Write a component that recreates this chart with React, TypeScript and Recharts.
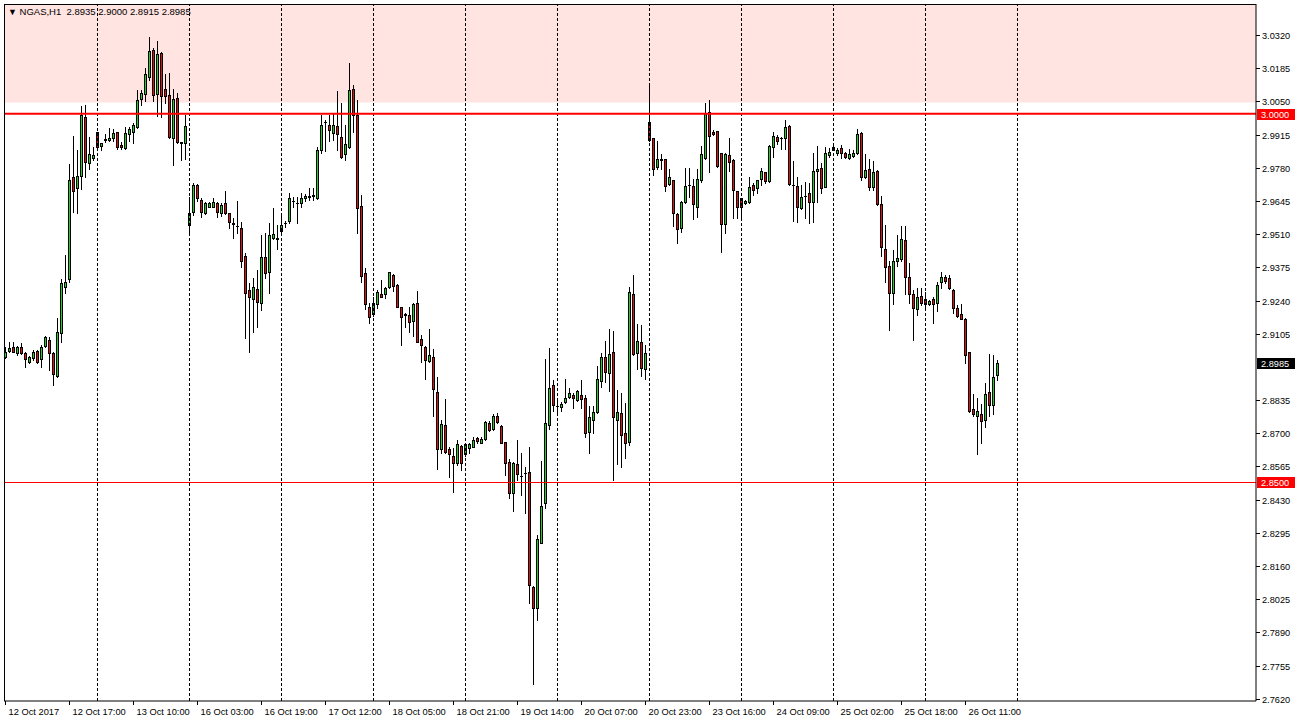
import { ComposedChart, Bar, XAxis, YAxis, ReferenceLine, ReferenceArea } from "recharts";

// NGAS H1 candles (bar 0 = 12 Oct 2017 00:00)
const opens = [
  2.9012, 2.9036, 2.9050, 2.9026, 2.9050, 2.9026, 2.8989, 2.9005, 2.9036, 2.9001,
  2.9055, 2.9080, 2.9026, 2.8933, 2.9109, 2.9296, 2.9326, 2.9741, 2.9696, 2.9746,
  2.9985, 2.9798, 2.9821, 2.9924, 2.9870, 2.9896, 2.9893, 2.9900, 2.9924, 2.9872,
  2.9859, 2.9916, 2.9927, 2.9947, 3.0058, 3.0079, 3.0150, 3.0259, 3.0079, 3.0245,
  3.0100, 3.0076, 2.9900, 3.0063, 2.9882, 2.9882, 2.9547, 2.9601, 2.9710, 2.9649,
  2.9595, 2.9622, 2.9622, 2.9635, 2.9595, 2.9635, 2.9595, 2.9554, 2.9543, 2.9534,
  2.9421, 2.9283, 2.9245, 2.9286, 2.9229, 2.9418, 2.9357, 2.9493, 2.9493, 2.9524,
  2.9557, 2.9565, 2.9645, 2.9638, 2.9635, 2.9656, 2.9665, 2.9666, 2.9656, 2.9852,
  2.9966, 2.9954, 2.9922, 2.9950, 2.9904, 2.9836, 2.9863, 3.0099, 2.9994, 2.9625,
  2.9351, 2.9213, 2.9186, 2.9225, 2.9267, 2.9265, 2.9294, 2.9344, 2.9303, 2.9213,
  2.9184, 2.9181, 2.9158, 2.9229, 2.9083, 2.9052, 2.8994, 2.9009, 2.8867, 2.8635,
  2.8734, 2.8635, 2.8608, 2.8581, 2.8649, 2.8615, 2.8642, 2.8646, 2.8680, 2.8662,
  2.8676, 2.8741, 2.8718, 2.8772, 2.8730, 2.8664, 2.8585, 2.8456, 2.8575, 2.8527,
  2.8538, 2.8542, 2.8074, 2.7989, 2.8255, 2.8416, 2.8734, 2.8896, 2.8811, 2.8806,
  2.8826, 2.8849, 2.8857, 2.8836, 2.8855, 2.8843, 2.8707, 2.8752, 2.8788, 2.8914,
  2.9009, 2.8947, 2.9030, 2.8752, 2.8782, 2.8700, 2.8666, 2.9266, 2.9028, 2.9071,
  2.8963, 2.9967, 2.9900, 2.9782, 2.9814, 2.9814, 2.9713, 2.9730, 2.9592, 2.9534,
  2.9642, 2.9710, 2.9706, 2.9622, 2.9730, 2.9819, 3.0008, 2.9924, 2.9929, 2.9839,
  2.9550, 2.9832, 2.9812, 2.9685, 2.9656, 2.9635, 2.9639, 2.9710, 2.9696, 2.9733,
  2.9761, 2.9726, 2.9863, 2.9904, 2.9900, 2.9900, 2.9951, 2.9710, 2.9706, 2.9615,
  2.9666, 2.9676, 2.9639, 2.9767, 2.9778, 2.9703, 2.9832, 2.9863, 2.9841, 2.9859,
  2.9839, 2.9819, 2.9829, 2.9839, 2.9920, 2.9744, 2.9774, 2.9703, 2.9767, 2.9631,
  2.9449, 2.9381, 2.9270, 2.9402, 2.9408, 2.9486, 2.9335, 2.9267, 2.9206, 2.9259,
  2.9245, 2.9226, 2.9246, 2.9231, 2.9314, 2.9337, 2.9331, 2.9283, 2.9209, 2.9186,
  2.9165, 2.9030, 2.8799, 2.8771, 2.8779, 2.8752, 2.8867, 2.8813, 2.8935,
];

const highs = [
  2.9052, 2.9073, 2.9073, 2.9055, 2.9066, 2.9032, 2.9016, 2.9039, 2.9039, 2.9059,
  2.9096, 2.9093, 2.9032, 2.9168, 2.9326, 2.9425, 2.9795, 2.9909, 2.9852, 3.0031,
  3.0035, 2.9906, 2.9863, 2.9927, 2.9882, 2.9917, 2.9940, 2.9936, 2.9927, 2.9886,
  2.9944, 2.9944, 2.9961, 3.0096, 3.0096, 3.0184, 3.0310, 3.0266, 3.0297, 3.0252,
  3.0161, 3.0164, 3.0099, 3.0083, 2.9886, 2.9994, 2.9662, 2.9717, 2.9714, 2.9656,
  2.9642, 2.9642, 2.9658, 2.9642, 2.9635, 2.9685, 2.9597, 2.9574, 2.9645, 2.9561,
  2.9432, 2.9313, 2.9333, 2.9364, 2.9507, 2.9516, 2.9554, 2.9615, 2.9547, 2.9595,
  2.9565, 2.9676, 2.9662, 2.9662, 2.9676, 2.9673, 2.9696, 2.9696, 2.9863, 2.9994,
  2.9974, 2.9994, 3.0001, 3.0092, 3.0042, 2.9954, 3.0207, 3.0117, 3.0056, 2.9669,
  2.9371, 2.9229, 2.9256, 2.9283, 2.9324, 2.9296, 2.9357, 2.9347, 2.9306, 2.9215,
  2.9191, 2.9215, 2.9229, 2.9279, 2.9100, 2.9055, 2.9124, 2.9043, 2.8927, 2.8752,
  2.8840, 2.8646, 2.8639, 2.8673, 2.8653, 2.8662, 2.8662, 2.8684, 2.8686, 2.8684,
  2.8748, 2.8748, 2.8778, 2.8782, 2.8734, 2.8666, 2.8595, 2.8585, 2.8673, 2.8619,
  2.8562, 2.8646, 2.8079, 2.8287, 2.8589, 2.9002, 2.9046, 2.8917, 2.8843, 2.8829,
  2.8921, 2.8883, 2.8863, 2.8876, 2.8917, 2.8856, 2.8809, 2.8812, 2.8974, 2.9028,
  2.9075, 2.9123, 2.9117, 2.8876, 2.8863, 2.8822, 2.9294, 2.9344, 2.9145, 2.9141,
  2.9059, 3.0126, 2.9902, 2.9890, 2.9836, 2.9816, 2.9774, 2.9732, 2.9594, 2.9646,
  2.9778, 2.9778, 2.9733, 2.9774, 2.9869, 3.0042, 3.0056, 2.9933, 2.9931, 2.9841,
  2.9841, 2.9900, 2.9814, 2.9687, 2.9658, 2.9647, 2.9744, 2.9717, 2.9732, 2.9778,
  2.9764, 2.9872, 2.9924, 2.9913, 2.9906, 2.9974, 2.9954, 2.9809, 2.9741, 2.9710,
  2.9721, 2.9717, 2.9839, 2.9869, 2.9798, 2.9863, 2.9859, 2.9869, 2.9859, 2.9872,
  2.9845, 2.9855, 2.9852, 2.9937, 2.9924, 2.9836, 2.9814, 2.9808, 2.9769, 2.9665,
  2.9547, 2.9401, 2.9446, 2.9507, 2.9543, 2.9543, 2.9392, 2.9283, 2.9290, 2.9290,
  2.9276, 2.9242, 2.9253, 2.9317, 2.9355, 2.9344, 2.9344, 2.9285, 2.9222, 2.9225,
  2.9168, 2.9032, 2.8860, 2.8843, 2.8820, 2.8904, 2.9023, 2.9019, 2.9000,
];

const lows = [
  2.9005, 2.9032, 2.9029, 2.9019, 2.9023, 2.8971, 2.8985, 2.8998, 2.8987, 2.8971,
  2.9052, 2.8958, 2.8897, 2.8928, 2.9073, 2.9269, 2.9317, 2.9601, 2.9595, 2.9692,
  2.9741, 2.9774, 2.9812, 2.9855, 2.9852, 2.9883, 2.9889, 2.9890, 2.9855, 2.9855,
  2.9855, 2.9890, 2.9882, 2.9940, 3.0035, 3.0053, 3.0137, 3.0053, 2.9990, 2.9988,
  3.0044, 2.9900, 2.9791, 2.9880, 2.9812, 2.9815, 2.9511, 2.9588, 2.9646, 2.9581,
  2.9592, 2.9619, 2.9619, 2.9581, 2.9584, 2.9592, 2.9534, 2.9493, 2.9513, 2.9378,
  2.9087, 2.9032, 2.9113, 2.9134, 2.9202, 2.9330, 2.9272, 2.9489, 2.9448, 2.9516,
  2.9540, 2.9554, 2.9622, 2.9554, 2.9622, 2.9646, 2.9649, 2.9649, 2.9653, 2.9839,
  2.9849, 2.9890, 2.9893, 2.9852, 2.9819, 2.9812, 2.9859, 2.9927, 2.9513, 2.9317,
  2.9205, 2.9150, 2.9175, 2.9211, 2.9253, 2.9252, 2.9290, 2.9280, 2.9213, 2.9059,
  2.9134, 2.9113, 2.9096, 2.9072, 2.8991, 2.8921, 2.8991, 2.8772, 2.8554, 2.8621,
  2.8621, 2.8524, 2.8463, 2.8571, 2.8551, 2.8609, 2.8621, 2.8643, 2.8660, 2.8660,
  2.8673, 2.8711, 2.8714, 2.8741, 2.8660, 2.8531, 2.8436, 2.8382, 2.8510, 2.8449,
  2.8377, 2.8011, 2.7681, 2.7941, 2.8253, 2.8395, 2.8717, 2.8792, 2.8775, 2.8792,
  2.8822, 2.8843, 2.8802, 2.8833, 2.8802, 2.8686, 2.8621, 2.8703, 2.8784, 2.8887,
  2.8910, 2.8873, 2.8508, 2.8576, 2.8562, 2.8601, 2.8653, 2.9019, 2.8962, 2.8931,
  2.8920, 2.9889, 2.9751, 2.9774, 2.9774, 2.9687, 2.9710, 2.9544, 2.9473, 2.9520,
  2.9638, 2.9662, 2.9570, 2.9581, 2.9723, 2.9815, 2.9764, 2.9913, 2.9784, 2.9439,
  2.9516, 2.9768, 2.9574, 2.9574, 2.9581, 2.9631, 2.9638, 2.9669, 2.9679, 2.9710,
  2.9719, 2.9723, 2.9823, 2.9877, 2.9855, 2.9855, 2.9710, 2.9565, 2.9561, 2.9611,
  2.9574, 2.9554, 2.9561, 2.9642, 2.9679, 2.9701, 2.9822, 2.9851, 2.9832, 2.9821,
  2.9819, 2.9816, 2.9825, 2.9836, 2.9730, 2.9737, 2.9689, 2.9689, 2.9629, 2.9423,
  2.9317, 2.9120, 2.9226, 2.9381, 2.9402, 2.9267, 2.9231, 2.9080, 2.9181, 2.9222,
  2.9215, 2.9222, 2.9148, 2.9198, 2.9290, 2.9310, 2.9286, 2.9188, 2.9172, 2.9164,
  2.8985, 2.8788, 2.8771, 2.8615, 2.8662, 2.8725, 2.8771, 2.8779, 2.8915,
];

const closes = [
  2.9032, 2.9046, 2.9032, 2.9050, 2.9028, 2.9001, 2.9009, 2.9032, 2.8991, 2.9052,
  2.9091, 2.9028, 2.8941, 2.9113, 2.9310, 2.9317, 2.9730, 2.9687, 2.9746, 2.9994,
  2.9805, 2.9835, 2.9832, 2.9863, 2.9879, 2.9894, 2.9900, 2.9920, 2.9863, 2.9863,
  2.9920, 2.9936, 2.9954, 3.0056, 3.0085, 3.0161, 3.0255, 3.0076, 3.0242, 3.0072,
  3.0073, 2.9906, 3.0060, 2.9884, 2.9884, 2.9950, 2.9595, 2.9710, 2.9656, 2.9601,
  2.9635, 2.9635, 2.9642, 2.9601, 2.9628, 2.9595, 2.9561, 2.9552, 2.9542, 2.9402,
  2.9272, 2.9253, 2.9294, 2.9233, 2.9416, 2.9353, 2.9507, 2.9509, 2.9491, 2.9547,
  2.9556, 2.9656, 2.9644, 2.9637, 2.9656, 2.9665, 2.9660, 2.9668, 2.9852, 2.9954,
  2.9965, 2.9933, 2.9954, 2.9917, 2.9823, 2.9877, 3.0096, 2.9994, 2.9615, 2.9340,
  2.9226, 2.9172, 2.9231, 2.9274, 2.9253, 2.9290, 2.9355, 2.9299, 2.9215, 2.9172,
  2.9183, 2.9152, 2.9225, 2.9073, 2.9057, 2.8996, 2.9019, 2.8879, 2.8635, 2.8738,
  2.8625, 2.8615, 2.8581, 2.8656, 2.8581, 2.8657, 2.8657, 2.8673, 2.8670, 2.8677,
  2.8745, 2.8714, 2.8771, 2.8744, 2.8662, 2.8578, 2.8459, 2.8578, 2.8534, 2.8526,
  2.8537, 2.8081, 2.7991, 2.8269, 2.8405, 2.8741, 2.8883, 2.8815, 2.8810, 2.8819,
  2.8843, 2.8863, 2.8843, 2.8871, 2.8839, 2.8700, 2.8765, 2.8786, 2.8921, 2.9012,
  2.8951, 2.9021, 2.8765, 2.8788, 2.8691, 2.8662, 2.9276, 2.9023, 2.9076, 2.8967,
  2.9026, 2.9893, 2.9774, 2.9814, 2.9813, 2.9707, 2.9741, 2.9595, 2.9530, 2.9642,
  2.9706, 2.9709, 2.9632, 2.9733, 2.9836, 3.0001, 2.9909, 2.9916, 2.9788, 2.9550,
  2.9836, 2.9805, 2.9689, 2.9619, 2.9622, 2.9645, 2.9703, 2.9689, 2.9730, 2.9767,
  2.9727, 2.9870, 2.9909, 2.9889, 2.9899, 2.9944, 2.9714, 2.9709, 2.9619, 2.9662,
  2.9665, 2.9642, 2.9767, 2.9775, 2.9696, 2.9839, 2.9845, 2.9853, 2.9852, 2.9841,
  2.9823, 2.9836, 2.9841, 2.9917, 2.9744, 2.9771, 2.9700, 2.9761, 2.9633, 2.9459,
  2.9376, 2.9270, 2.9401, 2.9414, 2.9490, 2.9335, 2.9266, 2.9211, 2.9253, 2.9231,
  2.9226, 2.9238, 2.9225, 2.9303, 2.9337, 2.9321, 2.9290, 2.9211, 2.9178, 2.9165,
  2.9019, 2.8792, 2.8779, 2.8791, 2.8748, 2.8860, 2.8815, 2.8928, 2.8985,
];

// one label every 16 bars
const timeLabels = [
  "12 Oct 2017", "12 Oct 17:00", "13 Oct 10:00", "16 Oct 03:00", "16 Oct 19:00",
  "17 Oct 12:00", "18 Oct 05:00", "18 Oct 21:00", "19 Oct 14:00", "20 Oct 07:00",
  "20 Oct 23:00", "23 Oct 16:00", "24 Oct 09:00", "25 Oct 02:00", "25 Oct 18:00",
  "26 Oct 11:00",
];
const LABEL_STEP = 16;

// dashed separators every 23 bars
const gridBars = [23, 46, 69, 92, 115, 138, 161, 184, 207, 230, 253];

// 2.8970 sits under the last-price box, so it is left out
const priceTicks = [
  3.032, 3.0185, 3.005, 2.9915, 2.978, 2.9645, 2.951, 2.9375, 2.924, 2.9105,
  2.8835, 2.87, 2.8565, 2.843, 2.8295, 2.816, 2.8025, 2.789, 2.7755, 2.762,
];

const zoneLow = 3.0045;
const resistance = 3.0;
const support = 2.85;
const lastPrice = 2.8985;
const symbolTitle = "NGAS,H1";
const ohlcTitle = "2.8935 2.9000 2.8915 2.8985";

const Y_MIN = 2.7611;
const Y_MAX = 3.0446;
const TOTAL_SLOTS = 313; // bars plus empty space to the right

const BULL = "#1ed21e";
const BEAR = "#e01010";
const FONT = "'Liberation Sans', Arial, sans-serif";

const data = Array.from({ length: TOTAL_SLOTS }, (_, i) =>
  i < opens.length
    ? { i, o: opens[i], h: highs[i], l: lows[i], c: closes[i] }
    : { i, o: null, h: null, l: null, c: null }
);

function Candle(props: any) {
  const { x, y, width, height, payload } = props;
  if (!payload || payload.h == null || x == null) return <g />;
  const { o, h, l, c } = payload;
  const top = Math.min(y, y + height);
  const span = Math.abs(height);
  const toY = (v: number) => (h === l ? top : top + ((h - v) / (h - l)) * span);
  const px = Math.round(x + width / 2) - 1;
  const yH = Math.round(toY(h));
  const yL = Math.round(toY(l));
  const yO = Math.round(toY(o));
  const yC = Math.round(toY(c));
  const bt = Math.min(yO, yC);
  const bb = Math.max(yO, yC);
  const fill = c > o ? BULL : BEAR;
  return (
    <g shapeRendering="crispEdges">
      <line x1={px + 0.5} x2={px + 0.5} y1={yH} y2={yL + 1} stroke="#000" />
      {bb > bt ? (
        <rect x={px - 0.5} y={bt + 0.5} width={2} height={bb - bt} fill={fill} stroke="#000" />
      ) : (
        <line x1={px - 1} x2={px + 2} y1={bt + 0.5} y2={bt + 0.5} stroke="#000" />
      )}
    </g>
  );
}

// dashed separator snapped onto the candle's wick column
function GridLine(props: any) {
  const { x1, x2, y1, y2 } = props;
  if (x1 == null) return <g />;
  const px = Math.round(x1) - 1 + 0.5;
  return (
    <line
      x1={px}
      x2={Math.round(x2 ?? x1) - 1 + 0.5}
      y1={y1}
      y2={y2}
      stroke="#000"
      strokeDasharray="3 2"
      shapeRendering="crispEdges"
    />
  );
}

function TimeTick(props: any) {
  const { x, y, payload } = props;
  const i = Number(payload.value);
  if (i % LABEL_STEP !== 0 || !timeLabels[i / LABEL_STEP]) return <g />;
  const px = Math.round(x) - 1 + 0.5;
  return (
    <g>
      <line x1={px} x2={px} y1={y} y2={y + 4} stroke="#000" shapeRendering="crispEdges" />
      <text x={px + 3} y={y + 14} fontSize={9.3} fontFamily={FONT} fill="#000">
        {timeLabels[i / LABEL_STEP]}
      </text>
    </g>
  );
}

function PriceTick(props: any) {
  const { x, y, payload } = props;
  const py = Math.round(y) + 0.5;
  return (
    <g>
      <line x1={x} x2={x + 4} y1={py} y2={py} stroke="#000" shapeRendering="crispEdges" />
      <text x={x + 6} y={py} dy={3.5} fontSize={9.2} fontFamily={FONT} fill="#000">
        {Number(payload.value).toFixed(4)}
      </text>
    </g>
  );
}

function priceBox(value: number, bg: string) {
  return (props: any) => {
    const vb = props.viewBox || {};
    const x0 = vb.x + vb.width + 1;
    const yy = Math.round(vb.y);
    return (
      <g>
        <rect x={x0} y={yy - 5} width={38} height={11} fill={bg} shapeRendering="crispEdges" />
        <text x={x0 + 4} y={yy} dy={3.5} fontSize={9.2} fontFamily={FONT} fill="#fff">
          {value.toFixed(4)}
        </text>
      </g>
    );
  };
}

export default function App() {
  return (
    <div style={{ position: "absolute", left: 0, top: 0, width: 1298, height: 725, background: "#fff" }}>
      <ComposedChart
        width={1298}
        height={725}
        data={data}
        margin={{ top: 4, right: 0, bottom: 0, left: 4 }}
        barCategoryGap={0}
        barGap={0}
      >
        <ReferenceArea y1={zoneLow} y2={Y_MAX} fill="#ffe4e1" fillOpacity={1} stroke="none" ifOverflow="hidden" />
        {gridBars.map((b) => (
          <ReferenceLine key={b} x={b} stroke="#000" shape={<GridLine />} />
        ))}
        <XAxis
          dataKey="i"
          type="category"
          interval={0}
          height={24}
          tickSize={0}
          tickMargin={0}
          tickLine={false}
          axisLine={{ stroke: "#000" }}
          tick={<TimeTick />}
        />
        <YAxis
          orientation="right"
          width={42}
          domain={[Y_MIN, Y_MAX]}
          allowDataOverflow
          ticks={priceTicks}
          interval={0}
          tickSize={0}
          tickMargin={0}
          tickLine={false}
          axisLine={{ stroke: "#000" }}
          tick={<PriceTick />}
        />
        <Bar
          dataKey={(d: any) => (d.h == null ? null : [d.l, d.h])}
          barSize={4}
          shape={<Candle />}
          isAnimationActive={false}
        />
        <ReferenceLine y={support} stroke="#ff0000" strokeWidth={1} shapeRendering="crispEdges" label={priceBox(support, "#ff0000")} />
        <ReferenceLine y={resistance} stroke="#ff0000" strokeWidth={2} label={priceBox(resistance, "#ff0000")} />
        <ReferenceLine y={lastPrice} stroke="none" label={priceBox(lastPrice, "#000")} />
      </ComposedChart>
      <div
        style={{
          position: "absolute",
          left: 4,
          top: 4,
          width: 1251,
          height: 696,
          border: "1px solid #000",
          borderRight: "none",
          borderBottom: "none",
          pointerEvents: "none",
        }}
      />
      <div
        style={{
          position: "absolute",
          left: 8,
          top: 6,
          fontFamily: FONT,
          fontSize: 9.5,
          color: "#000",
          whiteSpace: "pre",
          lineHeight: "11px",
        }}
      >
        <span style={{ fontSize: 9 }}>▼</span>
        {" " + symbolTitle + "  " + ohlcTitle}
      </div>
    </div>
  );
}
